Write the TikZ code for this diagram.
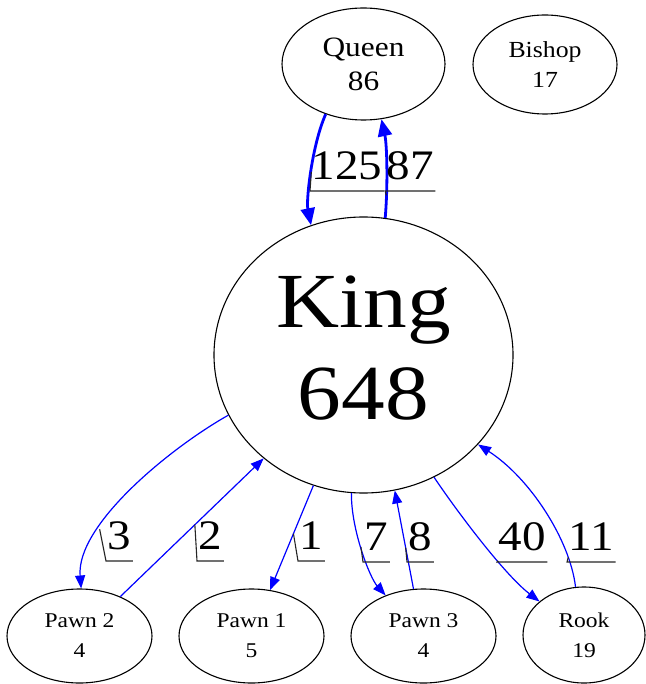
\documentclass[tikz,border=0pt]{standalone}
\usepackage{fontspec}
\setmainfont{Liberation Serif}[FakeStretch=1.12]
\usetikzlibrary{shapes.geometric,arrows.meta}

\tikzset{
  piece/.style={ellipse, draw=black, line width=1.1pt, inner sep=0pt, align=center},
  link/.style={draw=blue, line width=1.2pt, -{Triangle[length=13pt,width=10pt]}},
  heavy/.style={draw=blue, line width=2.8pt, -{Triangle[length=17pt,width=14pt]}},
  tally/.style={font=\fontsize{42}{42}\selectfont, anchor=south west,
                inner xsep=1.5pt, inner ysep=0pt, text depth=11pt},
  tick/.style={draw=black!85, line width=1.1pt}
}

\begin{document}
\begin{tikzpicture}[x=1pt, y=-1pt]
  \fill[white] (0,0) rectangle (645,684);
  \useasboundingbox (0,0) rectangle (645,684);

  % pieces
  \node[piece, minimum width=163pt, minimum height=112pt,
        font=\fontsize{28}{34}\selectfont] (queen) at (363.5,64) {Queen\\86};
  \node[piece, minimum width=144pt, minimum height=99pt,
        font=\fontsize{23}{29.5}\selectfont] (bishop) at (545,64.5) {Bishop\\17};
  \node[piece, minimum width=299pt, minimum height=276pt, text depth=15pt,
        font=\fontsize{78}{92}\selectfont] (king) at (363.5,355) {King\\648};
  \node[piece, minimum width=145pt, minimum height=94pt,
        font=\fontsize{21}{30}\selectfont] (pawnB) at (79.5,636) {Pawn 2\\4};
  \node[piece, minimum width=145pt, minimum height=94pt,
        font=\fontsize{21}{30}\selectfont] (pawnA) at (251.5,636) {Pawn 1\\5};
  \node[piece, minimum width=145pt, minimum height=94pt,
        font=\fontsize{21}{30}\selectfont] (pawnC) at (423.5,636) {Pawn 3\\4};
  \node[piece, minimum width=122pt, minimum height=96pt,
        font=\fontsize{21}{30}\selectfont] (rook) at (584,635) {Rook\\19};

  % moves between pieces
  \draw[heavy] (queen.-127.1) .. controls (312,145) and (306,200) .. (king.112.5)
        coordinate[pos=0.5] (m125);
  \draw[heavy] (king.81.5) .. controls (388,185) and (387,145) .. (queen.-72.2)
        coordinate[pos=0.22] (m87);
  \draw[link] (king.-156.5) .. controls (170,448) and (76,525) .. (pawnB.88.2)
        coordinate[pos=0.7] (m3);
  \draw[link] (pawnB.44.6) -- (king.-134.9) coordinate[pos=0.52] (m2);
  \draw[link] (king.-111.6) -- (pawnA.68.1) coordinate[pos=0.46] (m1);
  \draw[link] (king.-95.6) .. controls (351,530) and (370,578) .. (pawnC.133.9)
        coordinate[pos=0.46] (m7);
  \draw[link] (pawnC.102.9) -- (king.-77.3) coordinate[pos=0.42] (m8);
  \draw[link] (king.-60.3) .. controls (458,513) and (505,575) .. (rook.143.1)
        coordinate[pos=0.63] (m40);
  \draw[link] (rook.100.6) .. controls (570,540) and (530,478) .. (king.-38.4)
        coordinate[pos=0.2] (m11);

  % move counts with their leader lines
  \node[tally] (t125) at (310,191) {125};
  \node[tally] (t87)  at (385,191) {87};
  \node[tally] (t3)   at (106,561) {3};
  \node[tally] (t2)   at (197,561) {2};
  \node[tally] (t1)   at (298,561) {1};
  \node[tally] (t7)   at (363,562) {7};
  \node[tally] (t8)   at (407,562) {8};
  \node[tally] (t40)  at (497,562) {40};
  \node[tally] (t11)  at (567,562) {11};

  \draw[tick] (m125) -- (t125.south west) -- (t125.south east);
  \draw[tick] (m87) -- (t87.south west) -- (t87.south east);
  \draw[tick] (m3) -- (t3.south west) -- (t3.south east);
  \draw[tick] (m2) -- (t2.south west) -- (t2.south east);
  \draw[tick] (m1) -- (t1.south west) -- (t1.south east);
  \draw[tick] (m7) -- (t7.south west) -- (t7.south east);
  \draw[tick] (m8) -- (t8.south west) -- (t8.south east);
  \draw[tick] (m40) -- (t40.south west) -- (t40.south east);
  \draw[tick] (m11) -- (t11.south west) -- (t11.south east);
\end{tikzpicture}
\end{document}
